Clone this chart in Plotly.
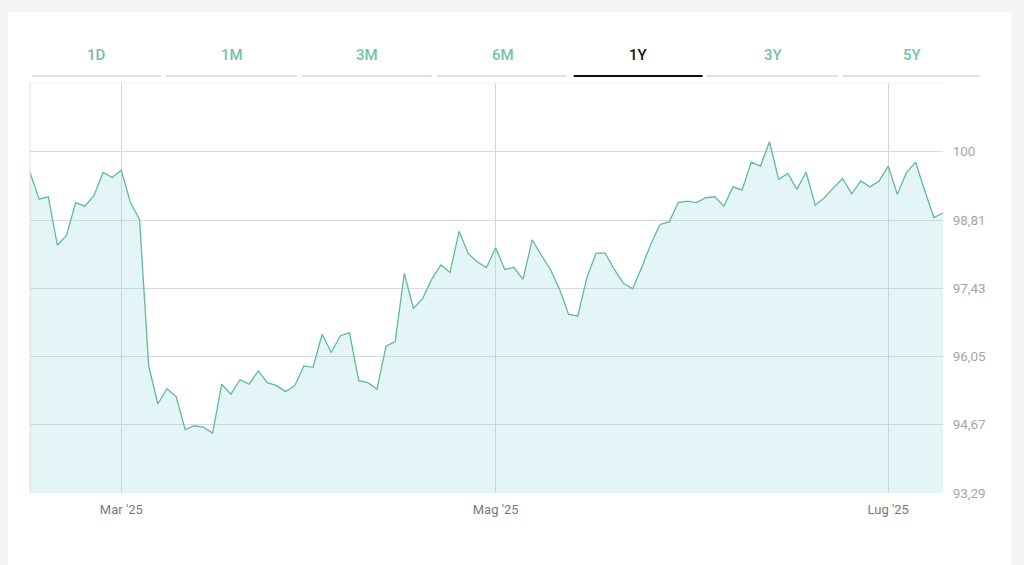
import pandas as pd
import plotly.graph_objects as go

# ---- data ----
holidays = ["2025-04-18", "2025-04-21"]
dates = [d.strftime("%Y-%m-%d") for d in pd.bdate_range("2025-02-17", "2025-07-09")
         if d.strftime("%Y-%m-%d") not in holidays]

values = [
    99.77, 99.23, 99.28, 98.30, 98.50, 99.16, 99.09, 99.30, 99.77, 99.67,
    99.82, 99.16, 98.82, 95.86, 95.09, 95.40, 95.24, 94.57, 94.65, 94.62,
    94.50, 95.49, 95.29, 95.58, 95.49, 95.76, 95.52, 95.46, 95.34, 95.46,
    95.86, 95.83, 96.50, 96.13, 96.47, 96.53, 95.56, 95.52, 95.39, 96.26,
    96.35, 97.73, 97.02, 97.22, 97.61, 97.90, 97.75, 98.58, 98.13, 97.96,
    97.85, 98.25, 97.81, 97.85, 97.61, 98.41, 98.10, 97.81, 97.41, 96.90,
    96.87, 97.65, 98.14, 98.14, 97.81, 97.53, 97.42, 97.85, 98.32, 98.72,
    98.77, 99.16, 99.19, 99.16, 99.26, 99.28, 99.09, 99.48, 99.42, 99.98,
    99.90, 100.39, 99.63, 99.75, 99.43, 99.78, 99.11, 99.26, 99.46, 99.65,
    99.34, 99.60, 99.48, 99.60, 99.90, 99.33, 99.77, 99.98, 99.40, 98.86,
    98.95,
]

x_tick_vals = ["2025-03-03", "2025-05-01", "2025-07-01"]
x_tick_text = ["Mar '25", "Mag '25", "Lug '25"]

y_tick_vals = [93.29, 94.67, 96.05, 97.43, 98.81, 100.19]
y_tick_text = ["93,29", "94,67", "96,05", "97,43", "98,81", "100"]

tabs = ["1D", "1M", "3M", "6M", "1Y", "3Y", "5Y"]
active_tab = "1Y"

# ---- layout geometry (pixels) ----
W, H = 1024, 565
PL, PR, PT, PB = 30, 943.5, 83, 493.3   # plot area edges


def px_x(px):
    return (px - PL) / (PR - PL)


def px_y(py):
    return (PB - py) / (PB - PT)


fig = go.Figure()
fig.add_trace(go.Scatter(
    x=dates, y=values, mode="lines",
    line=dict(color="#62b8a2", width=1.3),
    fill="tozeroy", fillcolor="rgba(139,215,218,0.24)",
    hoverinfo="x+y",
))

shapes = []
# white card on grey page
shapes.append(dict(type="rect", xref="paper", yref="paper", layer="below",
                   x0=px_x(8), x1=px_x(1012), y0=px_y(566), y1=px_y(12),
                   fillcolor="white", line=dict(width=0)))
# left / top border of plot
shapes.append(dict(type="line", xref="paper", yref="paper",
                   x0=0, x1=0, y0=0, y1=1, line=dict(color="#dedede", width=1)))
shapes.append(dict(type="line", xref="paper", yref="paper",
                   x0=0, x1=1, y0=1, y1=1, line=dict(color="#f0f0f0", width=1)))

# tabs
tab_centers = [97, 232, 367, 503, 639, 774, 913]
tab_segments = [(32, 161), (166, 297), (302, 432), (437, 567), (574, 703), (707, 839), (843, 980)]
annotations = []
for t, cx, (a, b) in zip(tabs, tab_centers, tab_segments):
    active = t == active_tab
    shapes.append(dict(type="line", xref="paper", yref="paper",
                       x0=px_x(a), x1=px_x(b), y0=px_y(76), y1=px_y(76),
                       line=dict(color="#111111" if active else "#e2e2e2",
                                 width=2.2 if active else 2)))
    annotations.append(dict(x=px_x(cx), y=px_y(55), xref="paper", yref="paper",
                            text=t, showarrow=False, xanchor="center", yanchor="middle",
                            font=dict(family="Roboto, sans-serif", size=15, weight=500,
                                      color="#111111" if active else "#74c1aa")))

fig.update_layout(
    width=W, height=H,
    margin=dict(l=PL, r=W - PR, t=PT, b=H - PB),
    paper_bgcolor="#f5f5f5",
    plot_bgcolor="rgba(255,255,255,0)",
    showlegend=False,
    shapes=shapes,
    annotations=annotations,
    xaxis=dict(
        type="category", range=[0, len(dates) - 1],
        tickmode="array", tickvals=x_tick_vals, ticktext=x_tick_text,
        showgrid=True, gridcolor="#d6d6d6", gridwidth=1,
        zeroline=False, showline=False,
        ticks="outside", ticklen=4, tickcolor="rgba(0,0,0,0)",
        tickfont=dict(family="Roboto, sans-serif", size=13, color="#7a7a7a"),
    ),
    yaxis=dict(
        side="right", range=[93.29, 101.58],
        tickmode="array", tickvals=y_tick_vals, ticktext=y_tick_text,
        showgrid=True, gridcolor="#dadada", gridwidth=1,
        zeroline=False, showline=False,
        ticks="outside", ticklen=6, tickcolor="rgba(0,0,0,0)",
        tickfont=dict(family="Roboto, sans-serif", size=13.5, color="#a6a6a6"),
    ),
)

fig.write_html(
    "out.html",
    config={"displayModeBar": False},
    post_script="document.body.style.margin='0';document.body.style.overflow='hidden';",
)
